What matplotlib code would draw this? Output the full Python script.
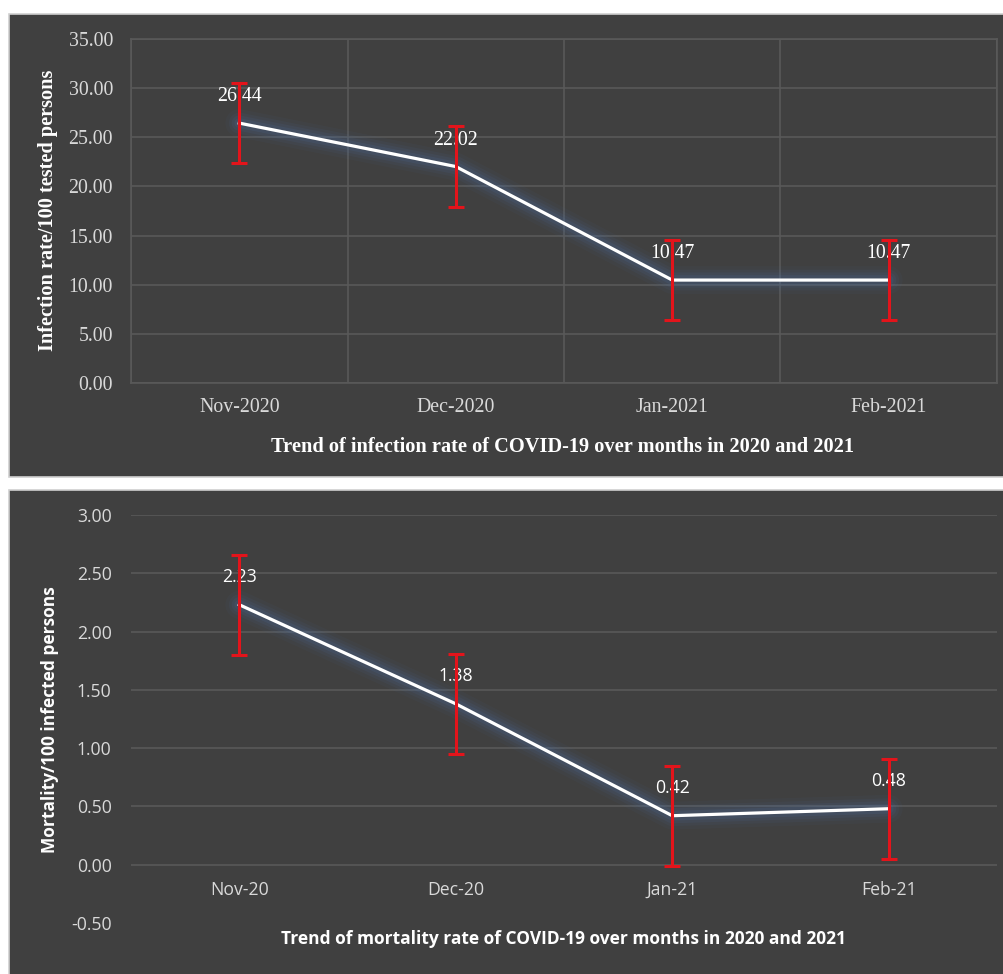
import matplotlib.pyplot as plt
from matplotlib.patches import Rectangle

# data
months_top = ['Nov-2020', 'Dec-2020', 'Jan-2021', 'Feb-2021']
infection = [26.44, 22.02, 10.47, 10.47]
infection_err = [4.05, 4.1, 4.08, 4.08]

months_bot = ['Nov-20', 'Dec-20', 'Jan-21', 'Feb-21']
mortality = [2.23, 1.38, 0.42, 0.48]
mortality_err = [0.43, 0.43, 0.43, 0.43]

BG = '#404040'
GRID = '#595959'
RED = '#e3141b'
GLOW = '#4f78b3'
TXT = '#d9d9d9'

fig = plt.figure(figsize=(10.04, 9.74), dpi=100)
fig.patch.set_facecolor('white')

# dark panels behind each chart
fig.add_artist(Rectangle((0.009, 0.5103), 0.995, 0.4753, transform=fig.transFigure,
                         facecolor=BG, edgecolor='#d0d0d0', lw=1.2, zorder=-10))
fig.add_artist(Rectangle((0.009, -0.01), 0.995, 0.5069, transform=fig.transFigure,
                         facecolor=BG, edgecolor='#d0d0d0', lw=1.2, zorder=-10))


def glow_line(ax, x, y):
    # soft blue halo under the white line
    for lw, a in [(20, 0.05), (15, 0.07), (11, 0.09), (7, 0.12)]:
        ax.plot(x, y, color=GLOW, lw=lw, alpha=a, solid_capstyle='round', zorder=2)
    ax.plot(x, y, color='white', lw=2.3, zorder=3)


# ---- top: infection rate ----
serif = 'Liberation Serif'
ax1 = fig.add_axes([0.1305, 0.6068, 0.8625, 0.3532])
ax1.set_facecolor('none')
x = list(range(len(months_top)))
glow_line(ax1, x, infection)
for i, v in enumerate(infection):
    ax1.annotate(f'{v:.2f}', (i, v), xytext=(0, 19), textcoords='offset points',
                 ha='center', va='center', color='white', fontsize=14.3,
                 family=serif, zorder=4)
ax1.errorbar(x, infection, yerr=infection_err, fmt='none', ecolor=RED, elinewidth=2.2,
             capsize=6, capthick=2.2, zorder=5)
ax1.set_xlim(-0.5, 3.5)
ax1.set_ylim(0, 35)
ax1.set_yticks([0, 5, 10, 15, 20, 25, 30, 35])
ax1.set_yticklabels([f'{t:.2f}' for t in ax1.get_yticks()])
ax1.set_xticks([-0.5, 0.5, 1.5, 2.5, 3.5], minor=False)
ax1.set_xticklabels([])
ax1.set_xticks(x, minor=True)
ax1.set_xticklabels(months_top, minor=True)
ax1.grid(True, which='major', color=GRID, lw=1.2)
ax1.tick_params(which='both', length=0)
ax1.tick_params(axis='y', pad=13, labelsize=14.3, labelcolor=TXT)
ax1.tick_params(axis='x', which='minor', pad=11, labelsize=14.3, labelcolor=TXT)
for lab in ax1.get_yticklabels() + ax1.get_xticklabels(minor=True):
    lab.set_family(serif)
for s in ax1.spines.values():
    s.set_color(GRID)
    s.set_linewidth(1.2)
ax1.set_xlabel('Trend of infection rate of COVID-19 over months in 2020 and 2021',
               family=serif, fontsize=14.7, fontweight='bold', color='white')
ax1.xaxis.set_label_coords(0.498, -0.186)
ax1.xaxis.label.set_va('center')
ax1.set_ylabel('Infection rate/100 tested persons', family=serif, fontsize=14.6,
               fontweight='bold', color='white')
ax1.yaxis.set_label_coords(-0.0958, 0.503)
ax1.yaxis.label.set_va('center')

# ---- bottom: mortality ----
sans = 'Open Sans'
ax2 = fig.add_axes([0.1305, 0.0524, 0.8625, 0.4189])
ax2.set_facecolor('none')
x = list(range(len(months_bot)))
for t in [0, 0.5, 1.0, 1.5, 2.0, 2.5, 3.0]:
    ax2.axhline(t, color=GRID, lw=1.2, zorder=1)
glow_line(ax2, x, mortality)
for i, v in enumerate(mortality):
    ax2.annotate(f'{v:.2f}', (i, v), xytext=(0, 20), textcoords='offset points',
                 ha='center', va='center', color='white', fontsize=12.7,
                 family=sans, zorder=4)
    ax2.annotate(months_bot[i], (i, 0), xytext=(0, -18), textcoords='offset points',
                 ha='center', va='center', color=TXT, fontsize=12.7, family=sans)
ax2.errorbar(x, mortality, yerr=mortality_err, fmt='none', ecolor=RED, elinewidth=2.2,
             capsize=6, capthick=2.2, zorder=5)
ax2.set_xlim(-0.5, 3.5)
ax2.set_ylim(-0.5, 3.0)
ax2.set_yticks([-0.5, 0, 0.5, 1.0, 1.5, 2.0, 2.5, 3.0])
ax2.set_yticklabels([f'{t:.2f}' for t in ax2.get_yticks()])
ax2.set_xticks([])
ax2.tick_params(length=0)
ax2.tick_params(axis='y', pad=14, labelsize=12.7, labelcolor=TXT)
for lab in ax2.get_yticklabels():
    lab.set_family(sans)
for s in ax2.spines.values():
    s.set_visible(False)
ax2.set_xlabel('Trend of mortality rate of COVID-19 over months in 2020 and 2021',
               family=sans, fontsize=12.5, fontweight='bold', color='white')
ax2.xaxis.set_label_coords(0.499, -0.04)
ax2.xaxis.label.set_va('center')
ax2.set_ylabel('Mortality/100 infected persons', family=sans, fontsize=12.5,
               fontweight='bold', color='white')
ax2.yaxis.set_label_coords(-0.0935, 0.4975)
ax2.yaxis.label.set_va('center')

fig.savefig('out.png', dpi=100)
